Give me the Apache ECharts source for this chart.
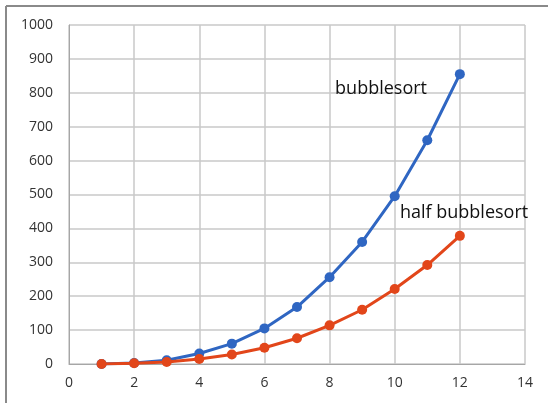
<!DOCTYPE html>
<html>
<head>
<meta charset="utf-8">
<script src="https://cdn.jsdelivr.net/npm/echarts@6/dist/echarts.min.js"></script>
<style>
  html, body { margin: 0; padding: 0; background: #fff; }
  #chart { width: 548px; height: 403px; }
</style>
</head>
<body>
<div id="chart"></div>
<script>
// Array size n and operation counts for the two sorts
const sizes = [1, 2, 3, 4, 5, 6, 7, 8, 9, 10, 11, 12];
const bubbleSort = [0, 3, 11, 31, 60, 105, 168, 256, 360, 495, 660, 855];
const halfBubbleSort = [0, 2, 6, 15, 28, 48, 76, 114, 160, 221, 292, 378];

const xTicks = [0, 2, 4, 6, 8, 10, 12, 14];
const yTicks = [0, 100, 200, 300, 400, 500, 600, 700, 800, 900, 1000];

const BLUE = '#2f66c2';
const ORANGE = '#e2461a';
const FONT = "'Open Sans', 'Liberation Sans', sans-serif";

const pairs = (xs, ys) => xs.map((x, i) => [x, ys[i]]);

const chart = echarts.init(document.getElementById('chart'));
chart.setOption({
  animation: false,
  backgroundColor: '#fff',
  grid: { left: 69, right: 23, top: 25, bottom: 39 },
  xAxis: {
    type: 'value',
    min: xTicks[0], max: xTicks[xTicks.length - 1], interval: 2,
    axisLine: { show: true, lineStyle: { color: '#a6a6a6', width: 1 } },
    axisTick: { show: false },
    axisLabel: { color: '#333', fontFamily: FONT, fontSize: 14, margin: 12, formatter: v => String(v) },
    splitLine: { show: true, lineStyle: { color: '#c8c8c8', width: 1.5 } }
  },
  yAxis: {
    type: 'value',
    min: yTicks[0], max: yTicks[yTicks.length - 1], interval: 100,
    axisLine: { show: true, lineStyle: { color: '#a6a6a6', width: 1 } },
    axisTick: { show: false },
    axisLabel: { color: '#333', fontFamily: FONT, fontSize: 14, margin: 16, formatter: v => String(v) },
    splitLine: { show: true, lineStyle: { color: '#c8c8c8', width: 1.5 } }
  },
  graphic: [
    { type: 'line', shape: { x1: 6, y1: 6, x2: 548, y2: 6 }, style: { stroke: '#8a8a8a', lineWidth: 2 } },
    { type: 'line', shape: { x1: 6, y1: 6, x2: 6, y2: 403 }, style: { stroke: '#8a8a8a', lineWidth: 2 } }
  ],
  series: [
    {
      name: 'bubblesort',
      type: 'line',
      data: pairs(sizes, bubbleSort),
      symbol: 'circle', symbolSize: 10,
      lineStyle: { color: BLUE, width: 3 },
      itemStyle: { color: BLUE },
      markPoint: {
        symbol: 'circle', symbolSize: 0,
        label: { show: true, formatter: 'bubblesort', color: '#111', fontFamily: FONT, fontSize: 18, position: 'inside' },
        data: [{ coord: [9.58, 811] }]
      },
      z: 3
    },
    {
      name: 'half bubblesort',
      type: 'line',
      data: pairs(sizes, halfBubbleSort),
      symbol: 'circle', symbolSize: 10,
      lineStyle: { color: ORANGE, width: 3 },
      itemStyle: { color: ORANGE },
      markPoint: {
        symbol: 'circle', symbolSize: 0,
        label: { show: true, formatter: 'half bubblesort', color: '#111', fontFamily: FONT, fontSize: 18, position: 'inside' },
        data: [{ coord: [12.13, 445] }]
      },
      z: 4
    }
  ]
});
</script>
</body>
</html>
